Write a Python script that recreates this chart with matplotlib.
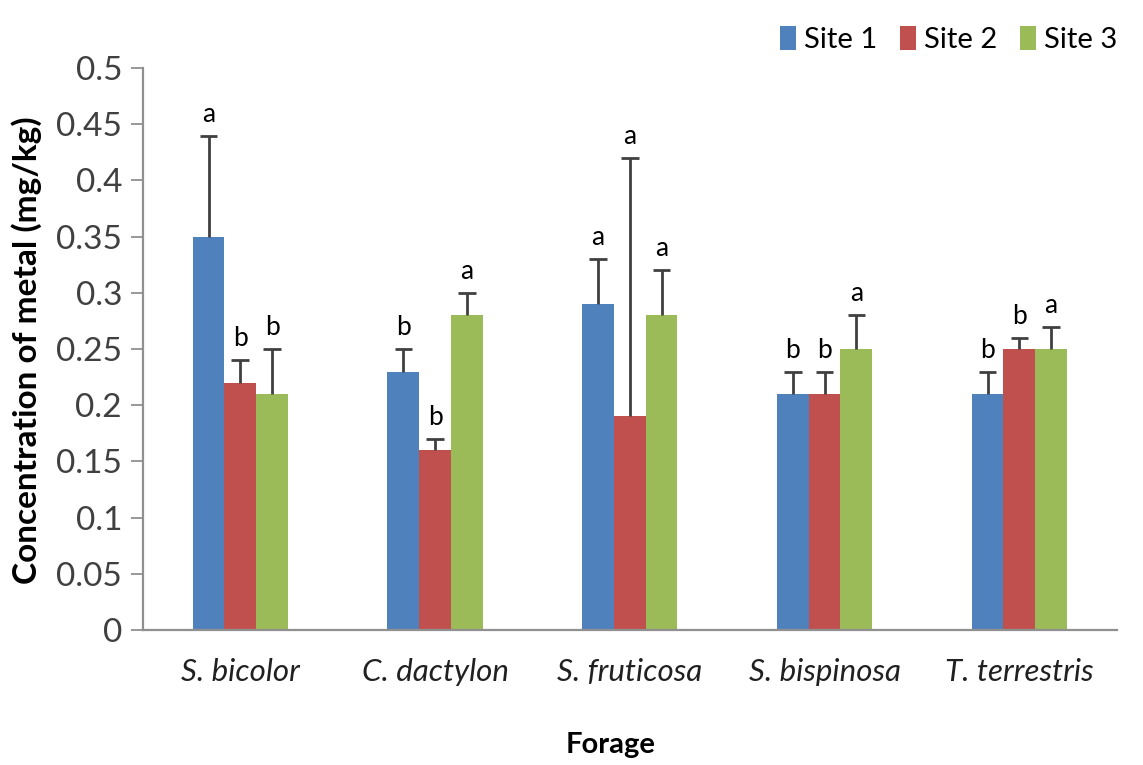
import matplotlib
matplotlib.use("Agg")
import matplotlib.pyplot as plt
import numpy as np

categories = ["S. bicolor", "C. dactylon", "S. fruticosa", "S. bispinosa", "T. terrestris"]
series_names = ["Site 1", "Site 2", "Site 3"]
site1 = [0.35, 0.23, 0.29, 0.21, 0.21]
site2 = [0.22, 0.16, 0.19, 0.21, 0.25]
site3 = [0.21, 0.28, 0.28, 0.25, 0.25]
err1 = [0.09, 0.02, 0.04, 0.02, 0.02]
err2 = [0.02, 0.01, 0.23, 0.02, 0.01]
err3 = [0.04, 0.02, 0.04, 0.03, 0.02]
letters1 = ["a", "b", "a", "b", "b"]
letters2 = ["b", "b", "a", "b", "b"]
letters3 = ["b", "a", "a", "a", "a"]
yticks = [0, 0.05, 0.1, 0.15, 0.2, 0.25, 0.3, 0.35, 0.4, 0.45, 0.5]
ytick_labels = ["0", "0.05", "0.1", "0.15", "0.2", "0.25", "0.3", "0.35", "0.4", "0.45", "0.5"]

colors = ["#4F81BD", "#C0504D", "#9BBB59"]
plt.rcParams['font.family'] = ['Lato', 'DejaVu Sans']

fig = plt.figure(figsize=(11.43, 7.65), dpi=100)
ax = fig.add_axes([0.125, 0.1765, 0.852, 0.7345])

x = np.arange(len(categories))
w = 0.163
cap = 0.045
vals = [site1, site2, site3]
errs = [err1, err2, err3]
lets = [letters1, letters2, letters3]
for i in range(3):
    xpos = x + (i - 1) * w
    ax.bar(xpos, vals[i], width=w, color=colors[i], label=series_names[i], zorder=2)
    tops = np.array(vals[i]) + np.array(errs[i])
    ax.vlines(xpos, vals[i], tops, color='#404040', linewidth=2, zorder=3)
    ax.hlines(tops, xpos - cap, xpos + cap, color='#404040', linewidth=2, zorder=3)
    for xi, t, l in zip(xpos, tops, lets[i]):
        ax.text(xi, t + 0.008, l, ha='center', va='bottom', fontsize=19, color='black')

ax.set_xlim(-0.5, len(categories) - 0.5)
ax.set_ylim(0, 0.5)
ax.set_yticks(yticks)
ax.set_yticklabels(ytick_labels, fontsize=24, color='#404040')
ax.set_xticks(x)
ax.set_xticklabels(categories, fontsize=22.5, style='italic', color='#202020')
ax.tick_params(axis='x', length=0, pad=20)
ax.tick_params(axis='y', length=9, width=1.3, color='#909090', pad=6)
for s in ['top', 'right']:
    ax.spines[s].set_visible(False)
for s in ['left', 'bottom']:
    ax.spines[s].set_color('#909090')
    ax.spines[s].set_linewidth(1.6)

fig.text(27 / 1143, 0.542, "Concentration of metal (mg/kg)", fontsize=24, fontweight='bold',
         rotation=90, ha='center', va='center')
fig.text(611 / 1143, 1 - 745 / 765, "Forage", fontsize=21, fontweight='bold', ha='center', va='center')

leg = fig.legend(loc='upper right', bbox_to_anchor=(1.0, 1.0), ncol=3, frameon=False,
                 fontsize=21, handlelength=0.55, handleheight=0.9, handletextpad=0.25,
                 columnspacing=0.8)

fig.savefig("out.png", dpi=100)
